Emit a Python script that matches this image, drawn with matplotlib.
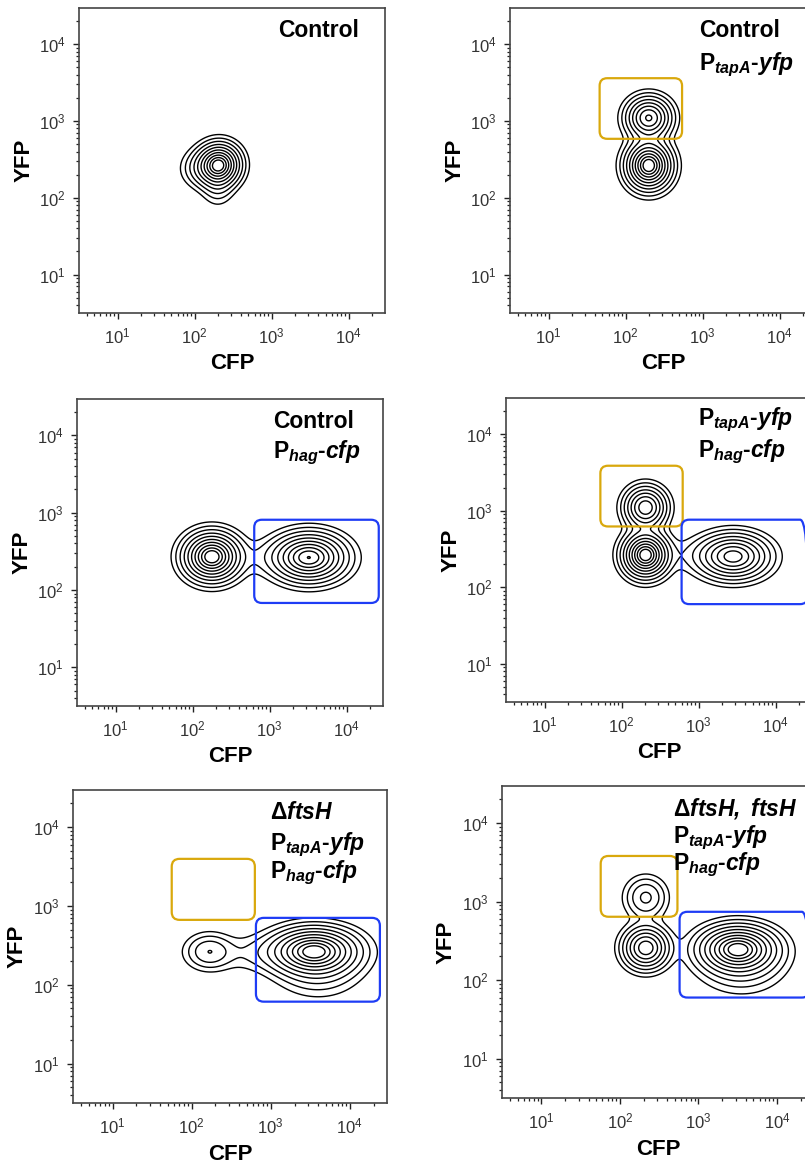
import numpy as np
import matplotlib.pyplot as plt
from matplotlib.patches import FancyBboxPatch
from matplotlib.ticker import LogLocator, NullFormatter

plt.rcParams.update({
    'font.family': ['Liberation Sans', 'DejaVu Sans'],
    'mathtext.fontset': 'custom',
    'mathtext.rm': 'Liberation Sans',
    'mathtext.it': 'Liberation Sans:italic',
    'mathtext.bf': 'Liberation Sans:bold',
    'mathtext.bfit': 'Liberation Sans:italic:bold',
    'mathtext.sf': 'Liberation Sans',
})

# ---- data (log10 units for population centres/widths) ----
# one list per panel; each population: centre CFP, centre YFP, spread CFP, spread YFP, weight
pop_cfp = [
    [2.32, 2.12, 2.30],
    [2.30, 2.30],
    [2.25, 3.51, 2.95],
    [2.31, 2.31, 3.45, 2.95],
    [3.55, 3.60, 2.22, 2.90],
    [2.33, 2.33, 3.50, 3.55],
]
pop_yfp = [
    [2.43, 2.38, 2.15],
    [2.42, 3.04],
    [2.43, 2.42, 2.42],
    [2.42, 3.04, 2.40, 2.42],
    [2.43, 2.20, 2.42, 2.40],
    [3.05, 2.41, 2.40, 2.18],
]
pop_sx = [
    [0.15, 0.16, 0.12],
    [0.16, 0.16],
    [0.20, 0.26, 0.25],
    [0.16, 0.15, 0.25, 0.25],
    [0.30, 0.30, 0.17, 0.45],
    [0.15, 0.16, 0.27, 0.30],
]
pop_sy = [
    [0.15, 0.14, 0.15],
    [0.17, 0.15],
    [0.17, 0.17, 0.14],
    [0.16, 0.15, 0.16, 0.14],
    [0.16, 0.20, 0.13, 0.14],
    [0.15, 0.15, 0.16, 0.20],
]
pop_w = [
    [1.0, 0.18, 0.1],
    [1.0, 0.7],
    [1.0, 0.9, 0.04],
    [1.0, 0.65, 0.75, 0.04],
    [1.0, 0.15, 0.2, 0.07],
    [0.24, 0.7, 1.0, 0.15],
]
contour_levels = [0.03, 0.065, 0.12, 0.2, 0.3, 0.42, 0.55, 0.68, 0.8, 0.9]

# gates: (CFP low, CFP high, YFP low, YFP high), None if absent
gold_gate = [None, (46, 540, 585, 3600), None, (53, 620, 620, 3850),
             (56, 630, 665, 3950), (57, 540, 640, 3800)]
blue_gate = [None, None, (630, 26000, 68, 810), (600, 26000, 60, 760),
             (650, 24000, 61, 705), (575, 26000, 60, 740)]

tap = r'$\mathbf{P}_{\mathbfit{tapA}}$-$\mathbfit{yfp}$'
hag = r'$\mathbf{P}_{\mathbfit{hag}}$-$\mathbfit{cfp}$'
panel_text = [
    ['Control'],
    ['Control', tap],
    ['Control', hag],
    [tap, hag],
    [r'Δ$\mathbfit{ftsH}$', tap, hag],
    [r'Δ$\mathbfit{ftsH,}$ $\mathbfit{ftsH}$', tap, hag],
]

# ---- layout (pixels: left, top, width, height) ----
W, H = 805, 1168
boxes_px = [(79, 8, 306, 305), (510, 8, 306, 305),
            (77, 399, 306, 307), (506, 398, 306, 304),
            (73, 790, 314, 313), (502, 786, 312, 312)]
text_x = [0.650, 0.618, 0.640, 0.627, 0.627, 0.548]
text_y = [[0.905], [0.905, 0.797], [0.906, 0.808], [0.911, 0.806],
          [0.907, 0.808, 0.719], [0.907, 0.817, 0.731]]

lo, hi = 0.5, 4.47
g = np.linspace(lo, hi, 400)
GX, GY = np.meshgrid(g, g)

fig = plt.figure(figsize=(W / 100, H / 100), dpi=100)

for i, (l, t, w, h) in enumerate(boxes_px):
    ax = fig.add_axes([l / W, 1 - (t + h) / H, w / W, h / H])
    ax.set_xscale('log')
    ax.set_yscale('log')
    ax.set_xlim(10 ** lo, 10 ** hi)
    ax.set_ylim(10 ** lo, 10 ** hi)

    Z = np.zeros_like(GX)
    for cx, cy, sx, sy, wt in zip(pop_cfp[i], pop_yfp[i], pop_sx[i], pop_sy[i], pop_w[i]):
        Z += wt * np.exp(-0.5 * ((GX - cx) / sx) ** 2 - 0.5 * ((GY - cy) / sy) ** 2)
    Z /= Z.max()
    ax.contour(10 ** GX, 10 ** GY, Z, levels=contour_levels, colors='k', linewidths=1.0)

    for gate, col in ((gold_gate[i], '#D9A80C'), (blue_gate[i], '#1E3CF5')):
        if gate is None:
            continue
        x0, x1, y0, y1 = gate
        p0 = ax.transAxes.inverted().transform(ax.transData.transform((x0, y0)))
        p1 = ax.transAxes.inverted().transform(ax.transData.transform((x1, y1)))
        ax.add_patch(FancyBboxPatch(p0, p1[0] - p0[0], p1[1] - p0[1],
                                    boxstyle='round,pad=0,rounding_size=0.025',
                                    transform=ax.transAxes, fill=False,
                                    edgecolor=col, linewidth=1.6, zorder=3))

    for line, ty in zip(panel_text[i], text_y[i]):
        ax.text(text_x[i], ty, line, transform=ax.transAxes, fontsize=16.5,
                fontweight='bold', ha='left', va='baseline')

    ax.xaxis.set_major_locator(LogLocator(base=10, numticks=10))
    ax.yaxis.set_major_locator(LogLocator(base=10, numticks=10))
    ax.xaxis.set_minor_locator(LogLocator(base=10, subs=np.arange(2, 10), numticks=20))
    ax.yaxis.set_minor_locator(LogLocator(base=10, subs=np.arange(2, 10), numticks=20))
    ax.xaxis.set_minor_formatter(NullFormatter())
    ax.yaxis.set_minor_formatter(NullFormatter())
    ax.tick_params(which='major', direction='out', length=4.5, width=1.0,
                   labelsize=12, pad=5, color='#222222', labelcolor='#333333')
    ax.tick_params(which='minor', direction='out', length=2.5, width=0.9, color='#222222')
    for s in ax.spines.values():
        s.set_color('#444444')
        s.set_linewidth(1.2)

    ax.set_xlabel('CFP', fontsize=16, fontweight='bold')
    ax.set_ylabel('YFP', fontsize=16, fontweight='bold')
    ax.xaxis.set_label_coords(0.5, -0.13)
    ax.yaxis.set_label_coords(-0.145, 0.5)

fig.savefig('out.png', dpi=100)
